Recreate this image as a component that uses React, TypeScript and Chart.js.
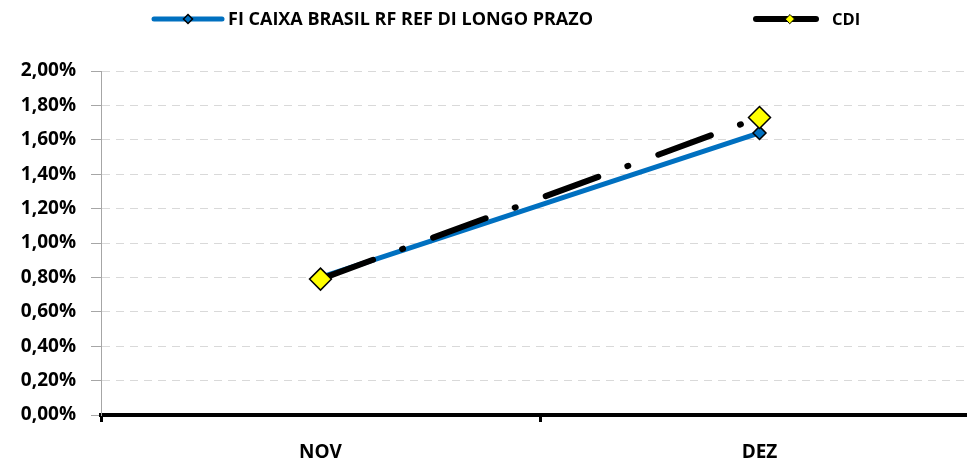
import React, { useEffect, useRef } from "react";
import { Chart, registerables } from "chart.js";

Chart.register(...registerables);

const categories: string[] = ["NOV", "DEZ"];
const fiLabel = "FI CAIXA BRASIL RF REF DI LONGO PRAZO";
const cdiLabel = "CDI";
const fiValues: number[] = [0.80, 1.64];
const cdiValues: number[] = [0.79, 1.73];
const yMin = 0;
const yMax = 2.0;
const yStep = 0.2;

const BLUE = "#0070C0";
const YELLOW = "#FFFF00";
const FONT = "'Open Sans', Lato, sans-serif";

function diamond(ctx: CanvasRenderingContext2D, x: number, y: number, r: number, fill: string, stroke: string, lw: number) {
  ctx.beginPath();
  ctx.moveTo(x - r, y);
  ctx.lineTo(x, y - r);
  ctx.lineTo(x + r, y);
  ctx.lineTo(x, y + r);
  ctx.closePath();
  ctx.fillStyle = fill;
  ctx.fill();
  ctx.lineWidth = lw;
  ctx.strokeStyle = stroke;
  ctx.stroke();
}

const legendPlugin = {
  id: "customLegend",
  afterDraw(chart: any) {
    const ctx: CanvasRenderingContext2D = chart.ctx;
    const y = 19;
    ctx.save();
    ctx.lineCap = "round";
    // FI entry
    ctx.lineWidth = 5;
    ctx.strokeStyle = BLUE;
    ctx.beginPath();
    ctx.moveTo(154, y);
    ctx.lineTo(222, y);
    ctx.stroke();
    diamond(ctx, 188, y, 4.5, BLUE, "#000", 1.5);
    ctx.fillStyle = "#000";
    ctx.font = `bold 18px ${FONT}`;
    ctx.textBaseline = "middle";
    ctx.textAlign = "left";
    ctx.fillText(chart.data.datasets[1].label, 228, y + 1);
    // CDI entry
    ctx.lineWidth = 6;
    ctx.strokeStyle = "#000";
    ctx.beginPath();
    ctx.moveTo(756, y);
    ctx.lineTo(816, y);
    ctx.stroke();
    diamond(ctx, 790, y, 4.5, YELLOW, "#000", 1);
    ctx.fillStyle = "#000";
    ctx.font = `bold 16.5px ${FONT}`;
    ctx.fillText(chart.data.datasets[0].label, 832, y + 1);
    ctx.restore();
  },
};

export default function App() {
  const ref = useRef<HTMLCanvasElement | null>(null);
  useEffect(() => {
    if (!ref.current) return;
    const chart = new Chart(ref.current, {
      type: "line",
      data: {
        labels: categories,
        datasets: [
          {
            label: cdiLabel,
            data: cdiValues,
            order: 0,
            borderColor: "#000",
            borderWidth: 6,
            borderDash: [56, 31, 1, 32],
            borderCapStyle: "round",
            pointStyle: "rectRot",
            pointRadius: 11,
            pointBackgroundColor: YELLOW,
            pointBorderColor: "#000",
            pointBorderWidth: 1.5,
            tension: 0,
          },
          {
            label: fiLabel,
            data: fiValues,
            order: 1,
            borderColor: BLUE,
            borderWidth: 5,
            borderCapStyle: "round",
            pointStyle: "rectRot",
            pointRadius: 6.5,
            pointBackgroundColor: BLUE,
            pointBorderColor: "#000",
            pointBorderWidth: 1.5,
            tension: 0,
          },
        ],
      },
      options: {
        animation: false,
        responsive: false,
        maintainAspectRatio: false,
        layout: { autoPadding: false, padding: { top: 71, left: 0, right: 0, bottom: 0 } },
        plugins: {
          legend: { display: false },
          tooltip: { enabled: false },
        },
        scales: {
          x: {
            type: "category",
            offset: true,
            grid: {
              offset: true,
              drawOnChartArea: false,
              drawTicks: true,
              tickLength: 7,
              tickWidth: 3,
              tickColor: "#000",
            },
            border: { display: true, color: "#000", width: 4 },
            ticks: {
              color: "#000",
              font: { family: FONT, weight: "bold", size: 19 },
              padding: 19,
            },
            afterFit: (s: any) => {
              s.height = 46;
            },
          },
          y: {
            min: yMin,
            max: yMax,
            grid: {
              color: "#d9d9d9",
              lineWidth: 1,
              drawTicks: true,
              tickLength: 10,
              tickColor: "#a6a6a6",
              tickBorderDash: [],
            },
            border: { display: true, color: "#a6a6a6", width: 1, dash: [8, 6] },
            ticks: {
              stepSize: yStep,
              color: "#000",
              padding: 15,
              font: { family: FONT, weight: "bold", size: 19 },
              callback: (v: any) => Number(v).toFixed(2).replace(".", ",") + "%",
            },
            afterFit: (s: any) => {
              s.width = 101;
            },
          },
        },
      },
      plugins: [legendPlugin],
    });
    return () => chart.destroy();
  }, []);
  return (
    <div style={{ position: "fixed", left: 0, top: 0, width: 979, height: 461 }}>
      <canvas ref={ref} width={979} height={461} style={{ display: "block" }} />
    </div>
  );
}
